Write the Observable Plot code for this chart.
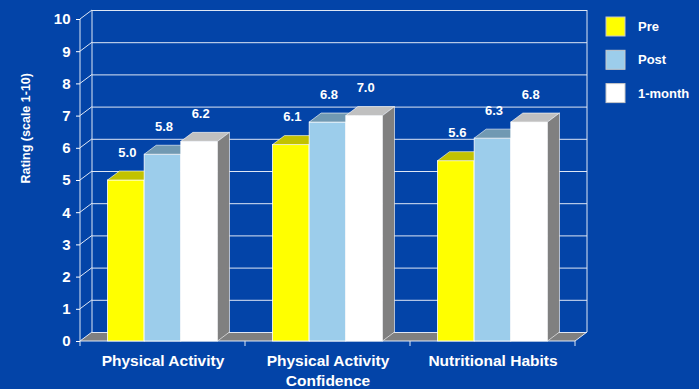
<!DOCTYPE html>
<html><head><meta charset="utf-8">
<script src="https://cdn.jsdelivr.net/npm/d3@7"></script>
<script src="https://cdn.jsdelivr.net/npm/@observablehq/plot@0.6"></script>
<style>
html,body{margin:0;padding:0;background:#0344a8;}
#chart{width:699px;height:389px;overflow:hidden;}
</style></head><body><div id="chart"></div>
<script>
// ---- data ----
const groups = ["Physical Activity", "Physical Activity\nConfidence", "Nutritional Habits"];
const seriesNames = ["Pre", "Post", "1-month"];
const preValues = [5.0, 6.1, 5.6];
const postValues = [5.8, 6.8, 6.3];
const monthValues = [6.2, 7.0, 6.8];
const yTicks = [0, 1, 2, 3, 4, 5, 6, 7, 8, 9, 10];
const yLabel = "Rating (scale 1-10)";

// ---- styles ----
const frontColors = ["#ffff00", "#9ccdeb", "#ffffff"];
const topColors = ["#c2c200", "#7199b2", "#c0c0c0"];
const sideColors = ["#808000", "#5a7a90", "#808080"];
const BG = "#0344a8";
const LINE = "#dfe7f5";
const W = 699, H = 389, mL = 80, mR = 124, mT = 19, mB = 48;
const DX = 12, DY = -9; // 3D depth
const band = (W - mL - mR) / groups.length;
const pad = 27.5;
const bw = (band - 2 * pad) / seriesNames.length;
const fmt = d3.format(".1f");

const valuesBySeries = [preValues, postValues, monthValues];
const rows = seriesNames.map((s, j) => groups.map((g, i) => ({group: g, series: s, value: valuesBySeries[j][i]})));

const barMarks = seriesNames.map((s, j) => Plot.barY(rows[j], {
  x: "group", y: "value", fill: frontColors[j], stroke: "white", strokeWidth: 0.8,
  insetLeft: pad + j * bw, insetRight: band - pad - (j + 1) * bw
}));
const labelMarks = seriesNames.map((s, j) => Plot.text(rows[j], {
  x: "group", y: "value", text: d => fmt(d.value), dx: (j - 1) * bw + 1, dy: -28,
  fontSize: 13, fill: "white"
}));

const plot = Plot.plot({
  width: W, height: H, marginLeft: mL, marginRight: mR, marginTop: mT, marginBottom: mB,
  style: {background: BG, color: "white", fontFamily: "'Liberation Sans', Arial, sans-serif", fontSize: "15px", fontWeight: "bold"},
  x: {type: "band", domain: groups, padding: 0, axis: null},
  y: {domain: [0, 10], ticks: 10, tickSize: 4, tickPadding: 6, label: null},
  marks: [
    Plot.ruleY(yTicks, {y: d => d, dx: DX, dy: DY, stroke: LINE, strokeWidth: 1}),
    ...barMarks,
    ...labelMarks,
    Plot.text(groups, {x: d => d, y: d => 0, text: d => d, lineAnchor: "top", dy: 11, lineHeight: 1.26, fontSize: 15.5, fill: "white"}),
    Plot.text([yLabel], {frameAnchor: "left", text: d => d, rotate: -90, dx: -55, dy: 3, fontSize: 12.5, fill: "white"})
  ]
});

document.getElementById("chart").appendChild(plot);

// ---- 3D decorations using the plot's scales ----
const svg = d3.select(plot);
const xs = plot.scale("x"), ys = plot.scale("y");
const [x0, x1] = xs.range;
const Y0 = ys.apply(0), Y10 = ys.apply(10);
const back = svg.insert("g", "g");
const pts = a => a.map(p => p.join(",")).join(" ");
back.append("polygon")
  .attr("points", pts([[x0, Y0], [x1, Y0], [x1 + DX, Y0 + DY], [x0 + DX, Y0 + DY]]))
  .attr("fill", "#808080");
const line = (ax, ay, bx, by) => back.append("line")
  .attr("x1", ax).attr("y1", ay).attr("x2", bx).attr("y2", by)
  .attr("stroke", LINE).attr("stroke-width", 1);
line(x0 + DX, Y0 + DY, x0 + DX, Y10 + DY);
line(x1 + DX, Y0 + DY, x1 + DX, Y10 + DY);
line(x0, Y0, x0, Y10);
yTicks.forEach(t => { const y = ys.apply(t); line(x0, y, x0 + DX, y + DY); });
line(x1, Y0, x1 + DX, Y0 + DY);
line(x0, Y0, x1, Y0);
groups.forEach((g, i) => { const gx = xs.apply(g); line(gx, Y0, gx, Y0 + 5); if (i === groups.length - 1) line(gx + xs.bandwidth, Y0, gx + xs.bandwidth, Y0 + 5); });

svg.selectAll('g[aria-label="bar"]').each(function(_, j) {
  const g = d3.select(this);
  const rects = g.selectAll("rect").nodes();
  rects.forEach(node => {
    const x = +node.getAttribute("x"), y = +node.getAttribute("y");
    const w = +node.getAttribute("width"), h = +node.getAttribute("height");
    g.append("polygon")
      .attr("points", pts([[x, y], [x + w, y], [x + w + DX, y + DY], [x + DX, y + DY]]))
      .attr("fill", topColors[j]).attr("stroke", "white").attr("stroke-width", 0.6);
    g.append("polygon")
      .attr("points", pts([[x + w, y], [x + w + DX, y + DY], [x + w + DX, y + h + DY], [x + w, y + h]]))
      .attr("fill", sideColors[j]).attr("stroke", "white").attr("stroke-width", 0.6);
  });
});

// ---- legend ----
const leg = svg.append("g");
seriesNames.forEach((s, j) => {
  const ly = 17 + j * 33.3;
  leg.append("rect").attr("x", 606).attr("y", ly).attr("width", 19).attr("height", 19)
    .attr("fill", frontColors[j]).attr("stroke", "#c8c8c8").attr("stroke-width", 1);
  leg.append("text").attr("x", 638).attr("y", ly + 9.5).attr("dy", "0.35em")
    .attr("text-anchor", "start")
    .attr("fill", "white").attr("font-size", 13).attr("font-weight", "bold").text(s);
});
</script>
</body></html>
